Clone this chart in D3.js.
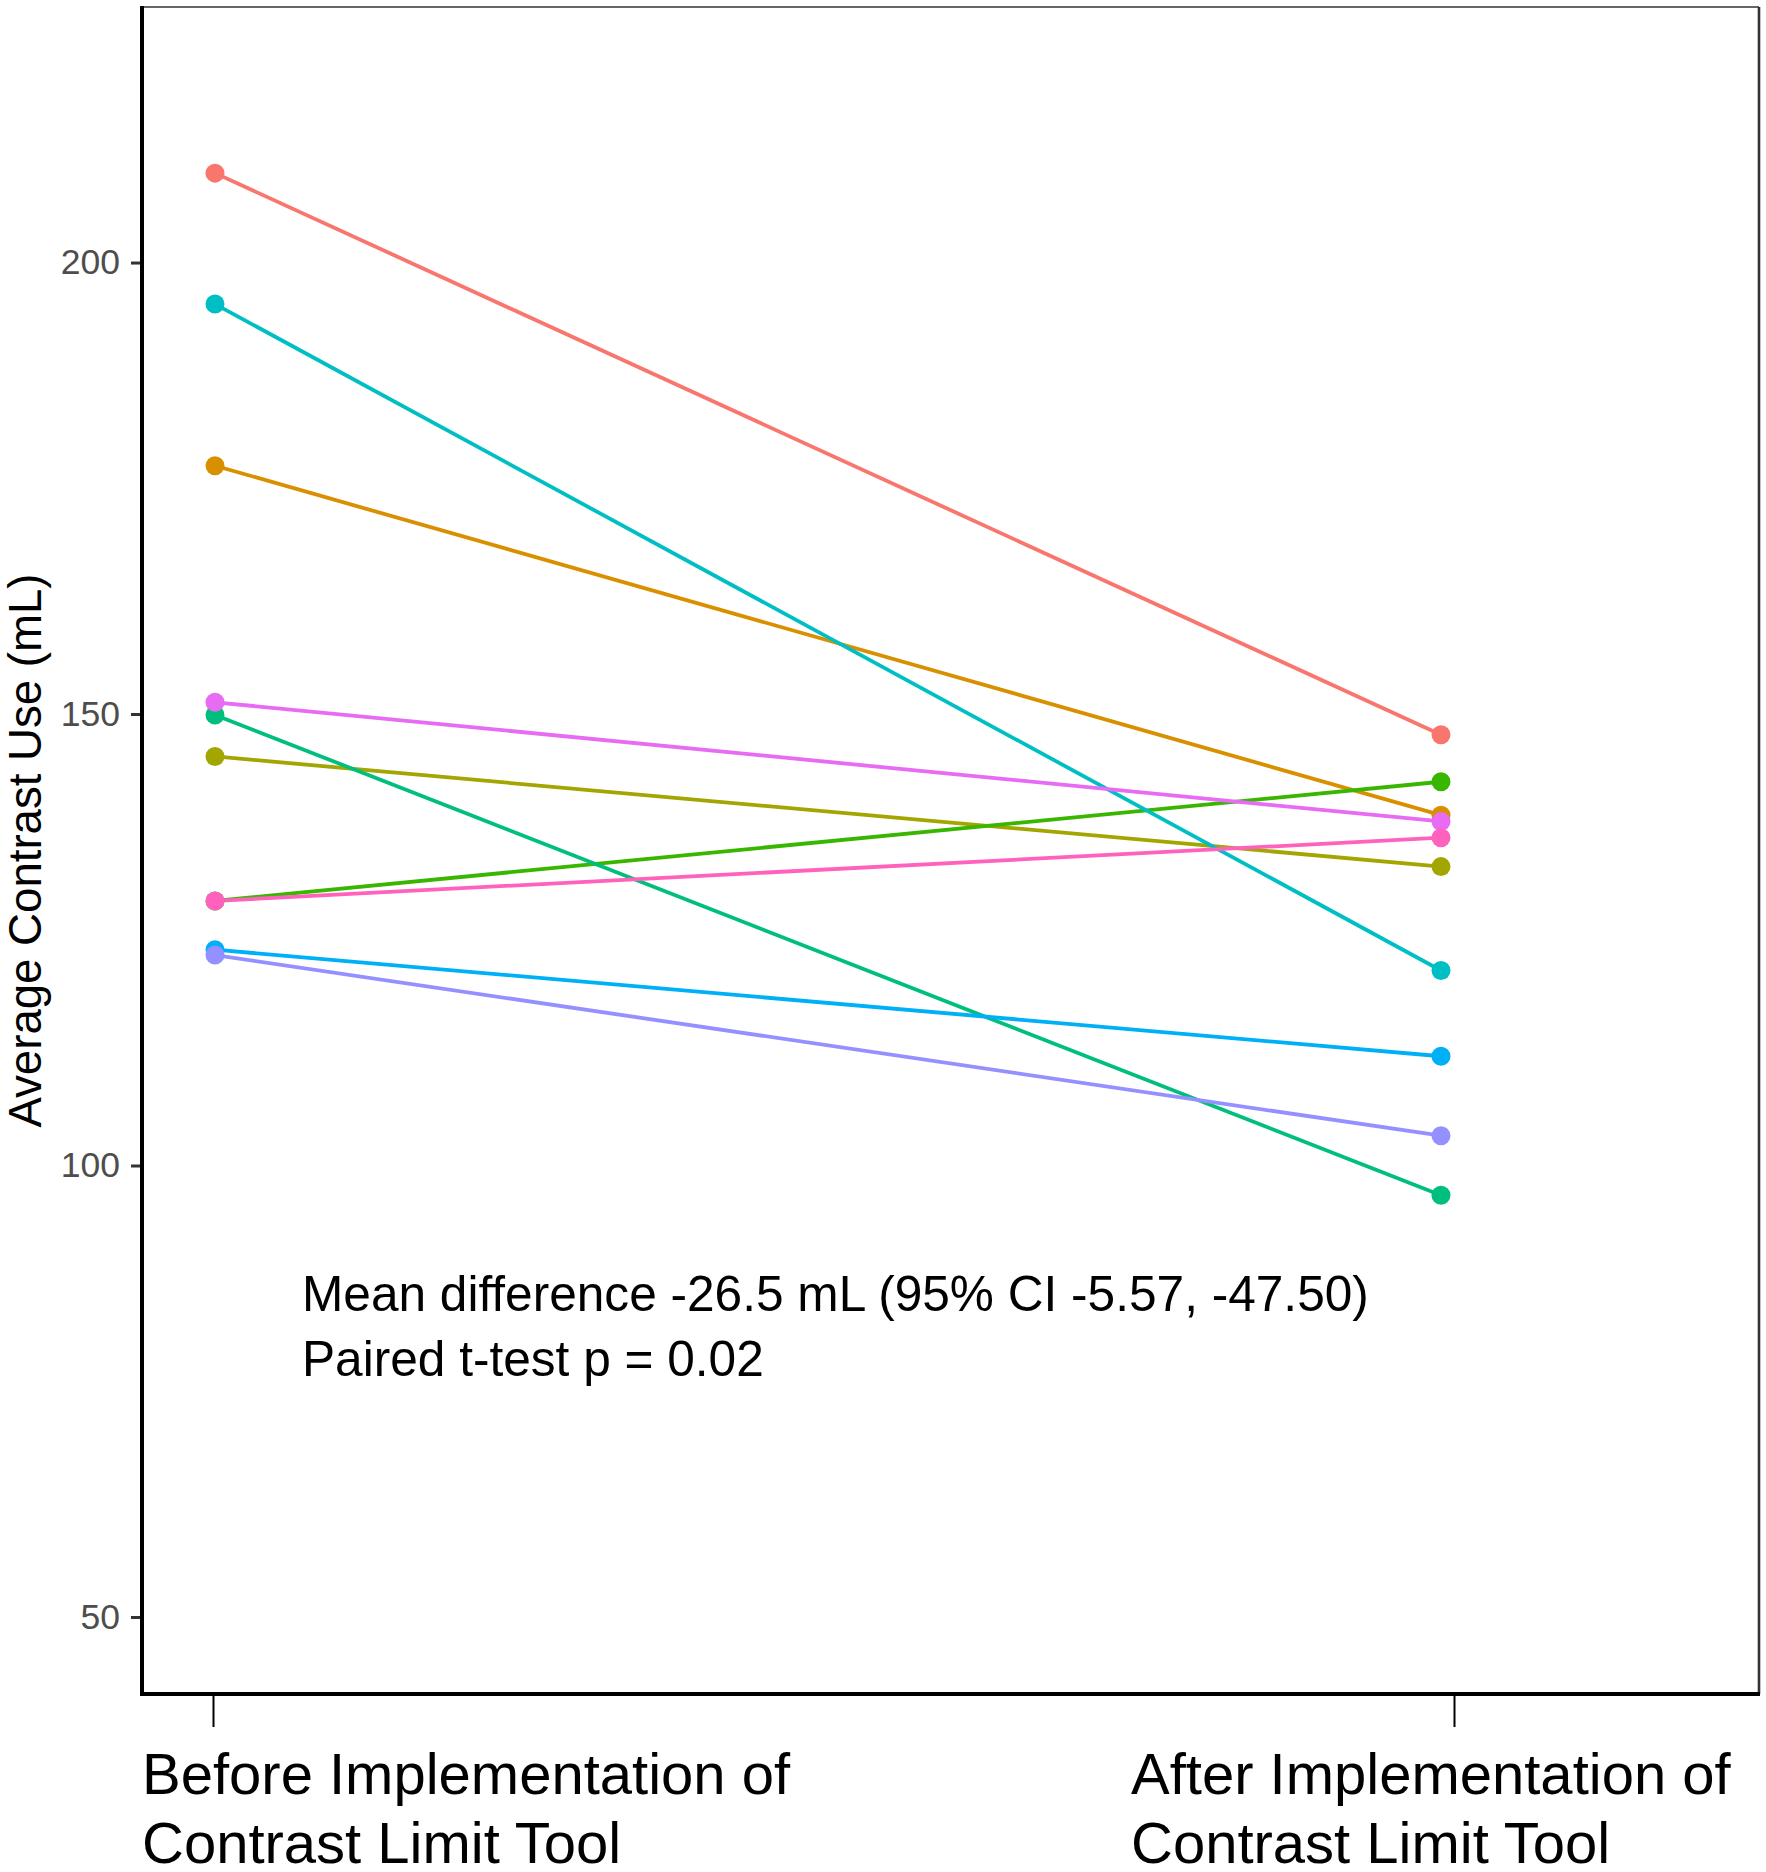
<!DOCTYPE html>
<html>
<head>
<meta charset="utf-8">
<script src="https://cdn.jsdelivr.net/npm/d3@7"></script>
<style>
  body { margin: 0; background: #fff; }
  svg { display: block; font-family: "Liberation Sans", Arial, sans-serif; }
</style>
</head>
<body>
<svg id="slope-chart" width="1766" height="1872"></svg>
<script>
// one entry per subject, before and after the contrast limit tool (mL)
let periods = ["Before", "After"];
let periodLabels = [
  ["Before Implementation of", "Contrast Limit Tool"],
  ["After Implementation of", "Contrast Limit Tool"]
];
let subjects = ["1", "2", "3", "4", "5", "6", "7", "8", "9", "10"];
let beforeValues = [209.9, 177.5, 145.3, 129.3, 149.9, 195.4, 123.9, 123.3, 151.3, 129.3];
let afterValues  = [147.7, 138.8, 133.1, 142.5, 96.7, 121.6, 112.1, 103.3, 138.1, 136.3];
let yTicks = [50, 100, 150, 200];
let annotation = [
  "Mean difference -26.5 mL (95% CI -5.57, -47.50)",
  "Paired t-test p = 0.02"
];

// ggplot's default hue palette for 10 groups
let palette = ["#F8766D", "#D89000", "#A3A500", "#39B600", "#00BF7D",
               "#00BFC4", "#00B0F6", "#9590FF", "#E76BF3", "#FF62BC"];

let drawSlopeChart = function() {
  let svg = d3.select("body").select("#slope-chart");
  console.assert(svg.size() == 1);

  let margin = {
    top:    7,
    right:  7,
    bottom: 178, // room for the two line category labels
    left:   142  // room for tick labels and axis title
  };

  let bounds = svg.node().getBoundingClientRect();
  let plotWidth = bounds.width - margin.left - margin.right;
  let plotHeight = bounds.height - margin.top - margin.bottom;

  // the axis ticks and the marks sit slightly apart in the original
  let xTick = d3.scalePoint()
    .domain(periods)
    .range([71, 1312]);

  let x = d3.scalePoint()
    .domain(periods)
    .range([73, 1299]);

  let y = d3.scaleLinear()
    .domain([41.47, 228.3])
    .range([plotHeight, 0]);

  let color = d3.scaleOrdinal()
    .domain(subjects)
    .range(palette);

  let plot = svg.append("g").attr("id", "plot")
    .attr("transform", "translate(" + margin.left + "," + margin.top + ")");

  // panel outline: thin top and right edges
  plot.append("line")
    .attr("x1", 0).attr("x2", plotWidth)
    .attr("y1", 0).attr("y2", 0)
    .attr("stroke", "#333").attr("stroke-width", 1.6);
  plot.append("line")
    .attr("x1", plotWidth).attr("x2", plotWidth)
    .attr("y1", 0).attr("y2", plotHeight)
    .attr("stroke", "#333").attr("stroke-width", 2.6);

  // y axis
  let yAxis = d3.axisLeft(y)
    .tickValues(yTicks)
    .tickSize(11)
    .tickPadding(11);
  let yGroup = plot.append("g").attr("id", "y-axis").call(yAxis);
  yGroup.select(".domain").remove();
  yGroup.selectAll(".tick line").attr("stroke", "#333").attr("stroke-width", 3);
  yGroup.selectAll(".tick text")
    .attr("fill", "#4D4D4D")
    .style("font-size", "35.5px")
    .style("font-family", "'Liberation Sans', Arial, sans-serif");

  // x axis: ticks hang below the thick axis line
  let xAxis = d3.axisBottom(xTick)
    .tickSize(31)
    .tickFormat("");
  let xGroup = plot.append("g").attr("id", "x-axis")
    .attr("transform", "translate(0," + (plotHeight + 2) + ")")
    .call(xAxis);
  xGroup.select(".domain").remove();
  xGroup.selectAll(".tick line").attr("stroke", "#000").attr("stroke-width", 2);

  // heavy left and bottom axis lines
  plot.append("line")
    .attr("x1", 0).attr("x2", 0)
    .attr("y1", -1).attr("y2", plotHeight + 2)
    .attr("stroke", "#000").attr("stroke-width", 4);
  plot.append("line")
    .attr("x1", -2).attr("x2", plotWidth + 1)
    .attr("y1", plotHeight).attr("y2", plotHeight)
    .attr("stroke", "#000").attr("stroke-width", 4);

  // category labels, two lines each, left aligned
  let labelOffsets = [-71, -323];
  periods.forEach((p, i) => {
    let t = plot.append("text")
      .attr("x", xTick(p) + labelOffsets[i])
      .attr("y", plotHeight + 100)
      .attr("fill", "#000")
      .style("font-size", "58px");
    periodLabels[i].forEach((line, j) => {
      t.append("tspan")
        .attr("x", xTick(p) + labelOffsets[i])
        .attr("dy", j == 0 ? 0 : 69)
        .text(line);
    });
  });

  // y axis title
  svg.append("text")
    .attr("transform", "translate(41," + (margin.top + plotHeight / 2) + ") rotate(-90)")
    .attr("text-anchor", "middle")
    .attr("fill", "#000")
    .style("font-size", "45.6px")
    .text("Average Contrast Use (mL)");

  let rows = subjects.map((s, i) => ({
    subject: s,
    values: [beforeValues[i], afterValues[i]]
  }));

  let line = d3.line()
    .x((d, i) => x(periods[i]))
    .y(d => y(d));

  plot.selectAll("path.pair")
    .data(rows)
    .enter().append("path")
    .attr("class", "pair")
    .attr("d", d => line(d.values))
    .attr("fill", "none")
    .attr("stroke", d => color(d.subject))
    .attr("stroke-width", 3.8);

  let points = [];
  rows.forEach(r => {
    r.values.forEach((v, i) => points.push({ subject: r.subject, period: periods[i], value: v }));
  });

  plot.selectAll("circle.pt")
    .data(points)
    .enter().append("circle")
    .attr("class", "pt")
    .attr("cx", d => x(d.period))
    .attr("cy", d => y(d.value))
    .attr("r", 9.5)
    .attr("fill", d => color(d.subject));

  // test result annotation
  let note = plot.append("text")
    .attr("x", 160)
    .attr("y", 1304)
    .attr("fill", "#000")
    .style("font-size", "49.6px");
  annotation.forEach((line, j) => {
    note.append("tspan")
      .attr("x", 160)
      .attr("dy", j == 0 ? 0 : 65)
      .text(line);
  });
};

drawSlopeChart();
</script>
</body>
</html>
